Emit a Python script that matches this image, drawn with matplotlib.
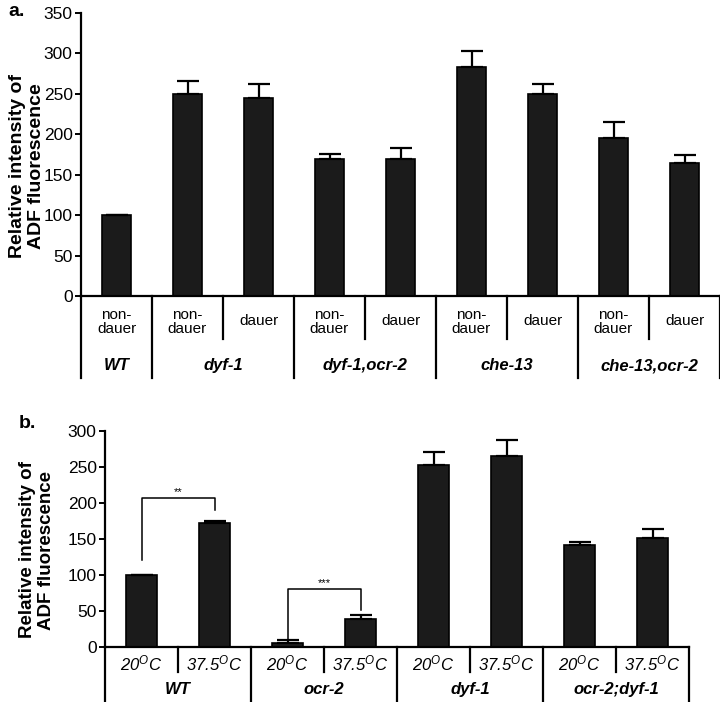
import numpy as np
import matplotlib
matplotlib.use('Agg')
from matplotlib import pyplot as plt

plt.rcParams['font.family'] = ['Liberation Sans', 'DejaVu Sans']
plt.rcParams['mathtext.fontset'] = 'custom'
plt.rcParams['mathtext.it'] = 'Liberation Sans:italic'
plt.rcParams['mathtext.rm'] = 'Liberation Sans:italic'

# panel a data
a_groups = ['WT', 'dyf-1', 'dyf-1,ocr-2', 'che-13', 'che-13,ocr-2']
a_sub = ['non-\ndauer', 'non-\ndauer', 'dauer', 'non-\ndauer', 'dauer',
         'non-\ndauer', 'dauer', 'non-\ndauer', 'dauer']
a_group_size = [1, 2, 2, 2, 2]
a_vals = [100, 250, 245, 169, 169, 283, 250, 196, 164]
a_err = [0, 16, 17, 7, 14, 20, 12, 19, 10]

# panel b data
b_groups = ['WT', 'ocr-2', 'dyf-1', 'ocr-2;dyf-1']
b_sub = ['20', '37.5'] * 4
b_vals = [100, 172, 6, 39, 253, 265, 141, 152]
b_err = [0, 3, 4, 6, 18, 23, 5, 12]
# significance brackets: (left bar, right bar, left foot, right foot, top, label)
b_sig = [(0, 1, 121, 190, 207, '**'), (2, 3, 5, 51, 81, '***')]

W, H = 720, 702
fig = plt.figure(figsize=(W / 100, H / 100), dpi=100)
bar_kw = dict(color='#1b1b1b', edgecolor='black', linewidth=1.2, zorder=2)
err_kw = dict(ecolor='black', elinewidth=1.6, capsize=8, capthick=1.6)


def px_axes(left, top, right, bottom):
    return fig.add_axes([left / W, 1 - bottom / H, (right - left) / W, (bottom - top) / H])


def style(ax, ymax, step):
    ax.set_ylim(0, ymax)
    ax.set_yticks(np.arange(0, ymax + 1, step))
    ax.spines['top'].set_visible(False)
    ax.spines['right'].set_visible(False)
    for s in ['left', 'bottom']:
        ax.spines[s].set_linewidth(1.6)
    ax.tick_params(axis='y', length=4, width=1.4, labelsize=12.5, pad=2)
    ax.set_xticks([])


# ---- panel a ----
ax = px_axes(81, 13, 720, 296)
n = len(a_vals)
x = np.arange(n) + 0.5
yerr = [np.zeros(n), a_err]
ax.bar(x, a_vals, width=0.41, yerr=yerr, error_kw=err_kw, **bar_kw)
ax.set_xlim(0, n)
style(ax, 350, 50)
tr = ax.get_xaxis_transform()
ax.plot([0, 0], [0, -0.29], transform=tr, color='black', lw=1.6, clip_on=False)
start = 0
for g, size in zip(a_groups, a_group_size):
    end = start + size
    ax.plot([end, end], [0, -0.29], transform=tr, color='black', lw=1.6, clip_on=False)
    for k in range(start + 1, end):
        ax.plot([k, k], [0, -0.152], transform=tr, color='black', lw=1.6, clip_on=False)
    ax.text((start + end) / 2, -0.247, g, transform=tr, ha='center', va='center',
            fontsize=12, fontweight='bold', style='italic')
    start = end
for i, s in enumerate(a_sub):
    yy = -0.092 if '\n' in s else -0.09
    ax.text(i + 0.5, yy, s, transform=tr, ha='center', va='center', fontsize=11,
            linespacing=1.05)
fig.text(27 / W, 1 - 166 / H, 'Relative intensity of\nADF fluorescence', rotation=90,
         ha='center', va='center', fontsize=14, fontweight='bold', linespacing=1.2)
fig.text(8 / W, 1 - 12 / H, 'a.', ha='left', va='center', fontsize=14, fontweight='bold')

# ---- panel b ----
ax = px_axes(105, 431, 689, 647)
n = len(b_vals)
x = np.arange(n) + 0.5
yerr = [np.zeros(n), b_err]
ax.bar(x, b_vals, width=0.42, yerr=yerr, error_kw=err_kw, **bar_kw)
ax.set_xlim(0, n)
style(ax, 300, 50)
tr = ax.get_xaxis_transform()
ax.plot([0, 0], [0, -0.26], transform=tr, color='black', lw=1.6, clip_on=False)
for k in range(1, n + 1):
    y0 = -0.26 if k % 2 == 0 else -0.116
    ax.plot([k, k], [0, y0], transform=tr, color='black', lw=1.6, clip_on=False)
for j, g in enumerate(b_groups):
    ax.text(2 * j + 1, -0.199, g, transform=tr, ha='center', va='center',
            fontsize=12, fontweight='bold', style='italic')
for i, s in enumerate(b_sub):
    ax.text(i + 0.5, -0.074, '$' + s + '^{O}C$', transform=tr,
            ha='center', va='center', fontsize=12)
for i0, i1, y0, y1, top, lab in b_sig:
    xl, xr = i0 + 0.5, i1 + 0.5
    ax.plot([xl, xl, xr, xr], [y0, top, top, y1], color='black', lw=1.1, zorder=3)
    ax.text((xl + xr) / 2, top + 8, lab, ha='center', va='center', fontsize=8)
fig.text(37 / W, 1 - 550 / H, 'Relative intensity of\nADF fluorescence', rotation=90,
         ha='center', va='center', fontsize=13.5, fontweight='bold', linespacing=1.2)
fig.text(19 / W, 1 - 424 / H, 'b.', ha='left', va='center', fontsize=14, fontweight='bold')

fig.savefig('out.png', dpi=100)
